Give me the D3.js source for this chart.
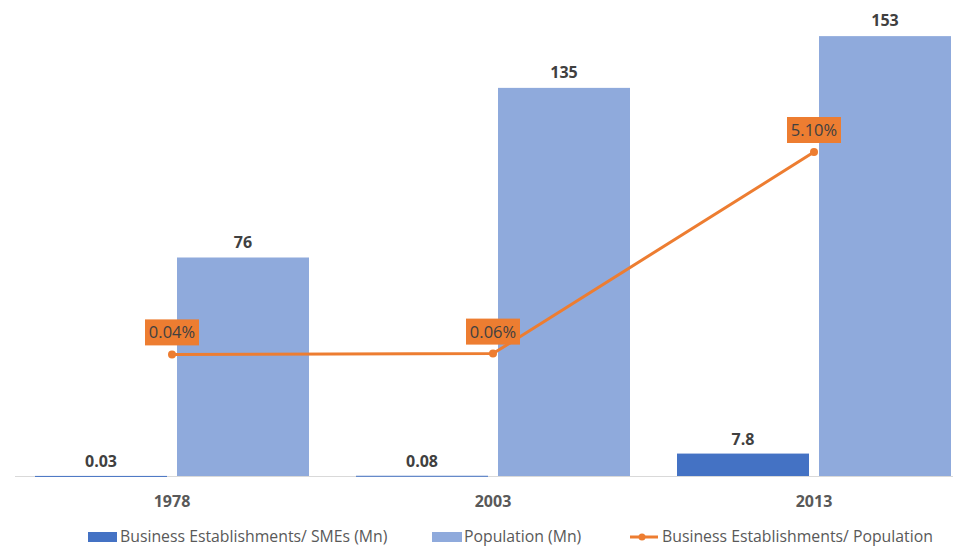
<!DOCTYPE html>
<html><head><meta charset="utf-8">
<script src="https://cdn.jsdelivr.net/npm/d3@7/dist/d3.min.js"></script>
<style>body{margin:0;background:#fff;}svg{display:block;font-family:"Open Sans","Noto Sans",sans-serif;}</style>
</head><body><svg id="c" width="953" height="548"></svg>
<script>
const years = ["1978", "2003", "2013"];
const smes = [0.03, 0.08, 7.8];
const smesLabels = ["0.03", "0.08", "7.8"];
const population = [76, 135, 153];
const popLabels = ["76", "135", "153"];
const ratio = [0.04, 0.06, 5.10];
const ratioLabels = ["0.04%", "0.06%", "5.10%"];
const legendLabels = ["Business Establishments/ SMEs (Mn)", "Population (Mn)", "Business Establishments/ Population"];

const svg = d3.select("#c");
const x = d3.scaleBand().domain(years).range([11.5, 974.5]).paddingInner(0).paddingOuter(0);
const inner = d3.scaleBand().domain(["s","p"]).range([23.5, 321 - 23.5]).paddingInner(0.0704);
const y = d3.scaleLinear().domain([0, 160]).range([476, 16]);
const y2 = d3.scaleLinear().domain([-3, 8.5]).range([476, 16]);

// axis line
svg.append("line").attr("x1", 15).attr("x2", 953).attr("y1", 476.5).attr("y2", 476.5)
  .attr("stroke", "#D9D9D9").attr("stroke-width", 1);

const colS = "#4472C4", colP = "#8FAADC", colL = "#ED7D31";

years.forEach((yr, i) => {
  const x0 = x(yr);
  svg.append("rect").attr("x", x0 + inner("s")).attr("width", inner.bandwidth())
    .attr("y", y(smes[i])).attr("height", Math.max(1, y(0) - y(smes[i])))
    .attr("fill", colS);
  svg.append("text").attr("x", x0 + inner("s") + inner.bandwidth()/2).attr("y", y(smes[i]) - 9)
    .attr("text-anchor", "middle").attr("font-size", 16).attr("font-weight", "bold")
    .attr("fill", "#404040").text(smesLabels[i]);
  svg.append("rect").attr("x", x0 + inner("p")).attr("width", inner.bandwidth())
    .attr("y", y(population[i])).attr("height", y(0) - y(population[i]))
    .attr("fill", colP);
  svg.append("text").attr("x", x0 + inner("p") + inner.bandwidth()/2).attr("y", y(population[i]) - 10)
    .attr("text-anchor", "middle").attr("font-size", 16).attr("font-weight", "bold")
    .attr("fill", "#404040").text(popLabels[i]);
  svg.append("text").attr("x", x0 + x.bandwidth()/2).attr("y", 507)
    .attr("text-anchor", "middle").attr("font-size", 16).attr("font-weight", "bold")
    .attr("fill", "#595959").text(yr);
});

const line = d3.line().x((d, i) => x(years[i]) + x.bandwidth()/2).y(d => y2(d));
svg.append("path").datum(ratio).attr("d", line).attr("fill", "none")
  .attr("stroke", colL).attr("stroke-width", 3).attr("stroke-linecap", "round");
ratio.forEach((v, i) => {
  const cx = x(years[i]) + x.bandwidth()/2, cy = y2(v);
  svg.append("circle").attr("cx", cx).attr("cy", cy).attr("r", 4).attr("fill", colL);
  svg.append("rect").attr("x", cx - 27).attr("y", cy - 35).attr("width", 54).attr("height", 26).attr("fill", colL);
  svg.append("text").attr("x", cx).attr("y", cy - 16).attr("text-anchor", "middle")
    .attr("font-size", 16.5).attr("fill", "#404040").text(ratioLabels[i]);
});

const lg = svg.append("g").attr("font-size", 15.8).attr("fill", "#595959");
lg.append("rect").attr("x", 88).attr("y", 532).attr("width", 29).attr("height", 10).attr("fill", colS);
lg.append("text").attr("x", 120).attr("y", 542).text(legendLabels[0]);
lg.append("rect").attr("x", 432).attr("y", 532).attr("width", 30).attr("height", 10).attr("fill", colP);
lg.append("text").attr("x", 464).attr("y", 542).text(legendLabels[1]);
lg.append("line").attr("x1", 630).attr("x2", 658).attr("y1", 537).attr("y2", 537).attr("stroke", colL).attr("stroke-width", 3);
lg.append("circle").attr("cx", 642).attr("cy", 537).attr("r", 3.5).attr("fill", colL);
lg.append("text").attr("x", 662).attr("y", 542).text(legendLabels[2]);
</script></body></html>
